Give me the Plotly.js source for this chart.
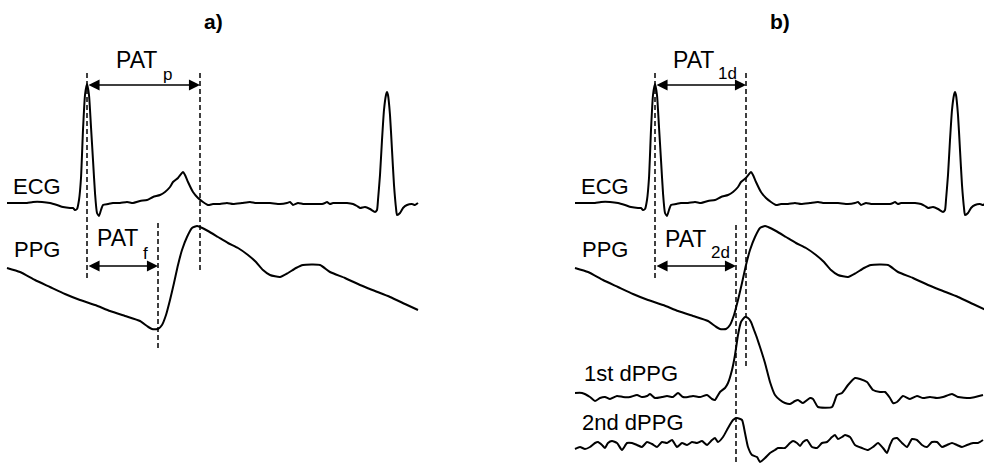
<!DOCTYPE html>
<html>
<head>
<meta charset="utf-8">
<script src="https://cdn.plot.ly/plotly-3.0.1.min.js"></script>
<style>html,body{margin:0;padding:0;background:#fff;}#chart{width:984px;height:465px;}</style>
</head>
<body>
<div id="chart"></div>
<script>
// ---- waveform data (time in samples, level in arbitrary screen units, larger = lower) ----
const ecgT = [7,17,27,33,42,50,57,63,70,73,75,77,79,81,83,85,87,89,91,93,95,97,99,101,103,108,113,120,127,133,140,147,153,160,165,170,173,178,183,185,188,193,198,203,208,213,220,227,233,242,250,255,262,270,280,287,290,293,298,303,310,317,322,325,327,330,333,340,347,353,357,360,365,370,375,377,378,380,382,384,386,387,388,390,392,394,396,397,400,403,407,412,415,418];
const ecgV = [203,203,203,202,202,203,205,207,208,208,210,209,200,178,130,95,84,95,127,160,193,213,216,210,205,204,203,203,202,203,201,200,197,195,192,187,182,178,172,175,182,192,198,202,205,204,204,203,204,203,202,203,203,203,204,203,202,205,203,204,204,204,204,203,202,204,203,203,203,204,206,208,207,209,212,210,200,175,140,110,95,92,95,115,150,185,208,215,213,208,205,204,205,203];

const ppgT = [7,20,35,50,65,80,95,110,125,140,147,152,158,162,166,170,174,178,182,187,192,197,200,208,218,228,238,248,256,263,270,280,288,296,303,320,330,345,360,375,390,405,418];
const ppgV = [268,272,280,287,294,300,305,311,316,321,326,329,329,325,315,300,283,265,250,237,228,226,227,231,237,243,248,255,262,270,275,277,273,268,265,265,272,278,285,291,297,304,310];

const d1T = [7,14,22,27,32,37,42,49,55,62,69,74,79,82,87,94,99,105,110,115,120,125,132,139,144,147,152,157,160,164,167,170,173,177,180,183,186,189,192,197,202,207,212,217,222,227,230,235,242,245,250,264,269,274,280,287,292,299,305,312,317,322,325,329,335,342,349,355,362,369,375,384,390,402,415];
const d1V = [393,393,397,401,398,397,399,396,397,397,395,397,396,394,398,397,396,397,393,397,397,396,397,395,399,400,392,388,383,370,355,335,322,317,318,322,330,338,347,363,382,395,400,403,404,401,400,403,398,399,407,407,395,393,385,378,379,382,390,392,392,398,403,402,396,399,396,398,397,398,397,394,397,398,395];

const d2T = [7,12,17,22,27,30,34,37,40,44,49,54,59,64,69,74,79,84,89,94,99,104,109,114,119,124,129,134,139,144,147,150,155,160,165,169,174,177,180,184,189,192,197,202,207,210,217,222,225,229,232,235,239,244,249,254,259,264,267,270,274,277,282,287,294,300,305,310,315,319,322,325,329,334,339,344,349,354,359,364,369,374,379,384,389,394,399,405,410,415];
const d2V = [449,447,449,447,443,442,445,448,443,441,443,450,443,443,445,447,442,444,447,442,443,440,447,443,445,442,443,441,445,440,438,442,437,428,420,418,420,433,447,455,457,462,458,453,450,448,448,443,441,443,446,442,440,447,448,443,442,437,435,439,437,435,437,445,448,450,447,443,448,453,445,439,438,443,447,439,440,445,447,442,442,447,445,443,445,447,445,443,443,440];

// event times (samples) marked by dashed lines
const markersA = [87, 158, 200];   // R peak, PPG foot, PPG peak
const markersB = [87, 168, 178];   // R peak, 2nd dPPG peak, 1st dPPG peak

const labelsA = ['ECG', 'PPG'];
const labelsB = ['ECG', 'PPG', '1st dPPG', '2nd dPPG'];

// ---- figure ----
const FONT = 'Liberation Sans, Arial, Helvetica, sans-serif';
const lineStyle = {color: '#000', width: 2, shape: 'spline', smoothing: 0.5};

function tr(x, y, xa, ya) {
  return {x: x, y: y, xaxis: xa, yaxis: ya, type: 'scatter', mode: 'lines',
          line: lineStyle, hoverinfo: 'skip', showlegend: false};
}

const data = [
  tr(ecgT, ecgV, 'x', 'y'),
  tr(ppgT, ppgV, 'x', 'y'),
  tr(ecgT, ecgV, 'x2', 'y2'),
  tr(ppgT, ppgV, 'x2', 'y2'),
  tr(d1T, d1V, 'x2', 'y2'),
  tr(d2T, d2V, 'x2', 'y2')
];

const dashLine = {color: '#000', width: 1.5, dash: '5px,3px'};
function vline(x, y0, y1, xr, yr) {
  return {type: 'line', xref: xr, yref: yr, x0: x, x1: x, y0: y0, y1: y1, line: dashLine};
}
const shapes = [
  vline(markersA[0], 73, 280, 'x', 'y'),
  vline(markersA[2], 73, 272, 'x', 'y'),
  vline(markersA[1], 223, 350, 'x', 'y'),
  vline(markersB[0], 73, 278, 'x2', 'y2'),
  vline(markersB[2], 73, 367, 'x2', 'y2'),
  vline(markersB[1], 225, 465, 'x2', 'y2')
];

function txt(t, x, y, xr, yr, size, bold) {
  return {text: bold ? '<b>' + t + '</b>' : t, x: x, y: y, xref: xr, yref: yr,
          showarrow: false, xanchor: 'center', yanchor: 'middle',
          font: {family: FONT, size: size, color: '#000'}};
}
function arrow(xa, xb, y, xr, yr) {
  return {text: '', x: xb, y: y, ax: xa, ay: y, xref: xr, yref: yr, axref: xr, ayref: yr,
          showarrow: true, arrowhead: 2, arrowside: 'end+start', arrowsize: 1.3,
          arrowwidth: 1.7, arrowcolor: '#000', standoff: 0, startstandoff: 0};
}

const annotations = [
  txt('a)', 213, 21, 'x', 'y', 21, true),
  txt('b)', 212, 21, 'x2', 'y2', 21, true),
  txt(labelsA[0], 37, 186, 'x', 'y', 22),
  txt(labelsA[1], 37, 249, 'x', 'y', 22),
  txt('PAT', 136, 60, 'x', 'y', 23),
  txt('p', 167, 74, 'x', 'y', 17),
  arrow(markersA[0], markersA[2], 85, 'x', 'y'),
  txt('PAT', 117, 238, 'x', 'y', 23),
  txt('f', 145, 253, 'x', 'y', 17),
  arrow(markersA[0], markersA[1], 266, 'x', 'y'),

  txt(labelsB[0], 37, 186, 'x2', 'y2', 22),
  txt(labelsB[1], 37, 249, 'x2', 'y2', 22),
  txt(labelsB[2], 63, 373, 'x2', 'y2', 22),
  txt(labelsB[3], 65, 422, 'x2', 'y2', 22),
  txt('PAT', 125, 60, 'x2', 'y2', 23),
  txt('1d', 159, 73, 'x2', 'y2', 17),
  arrow(markersB[0], markersB[2], 85, 'x2', 'y2'),
  txt('PAT', 117, 239, 'x2', 'y2', 23),
  txt('2d', 152, 252, 'x2', 'y2', 17),
  arrow(markersB[0], markersB[1], 266, 'x2', 'y2')
];

const hidden = {visible: false, showgrid: false, zeroline: false, fixedrange: true};
const layout = {
  width: 984, height: 465,
  margin: {l: 0, r: 0, t: 0, b: 0},
  paper_bgcolor: '#fff', plot_bgcolor: '#fff',
  showlegend: false,
  xaxis: Object.assign({domain: [0, 430/984], range: [0, 430]}, hidden),
  yaxis: Object.assign({domain: [0, 1], range: [465, 0], anchor: 'x'}, hidden),
  xaxis2: Object.assign({domain: [568/984, 1], range: [0, 416], anchor: 'y2'}, hidden),
  yaxis2: Object.assign({domain: [0, 1], range: [465, 0], anchor: 'x2'}, hidden),
  shapes: shapes,
  annotations: annotations
};

Plotly.newPlot('chart', data, layout, {displayModeBar: false, staticPlot: true});
</script>
</body>
</html>
